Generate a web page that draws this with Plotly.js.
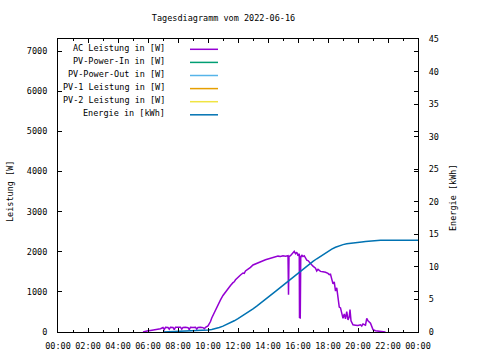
<!DOCTYPE html>
<html><head><meta charset="utf-8">
<script src="https://cdn.plot.ly/plotly-3.0.1.min.js"></script>
<style>html,body{margin:0;padding:0;background:#fff}#chart{width:480px;height:360px}</style>
</head><body><div id="chart"></div>
<script>
const chartTitle = "Tagesdiagramm vom 2022-06-16";
const leftAxisTitle = "Leistung [W]";
const rightAxisTitle = "Energie [kWh]";
const seriesNames = ["AC Leistung in [W]", "PV-Power-In in [W]", "PV-Power-Out in [W]", "PV-1 Leistung in [W]", "PV-2 Leistung in [W]", "Energie in [kWh]"];
const seriesColors = ["#9400d3", "#009e73", "#56b4e9", "#e69f00", "#f0e442", "#0072b2"];

const xTickHours = [0, 2, 4, 6, 8, 10, 12, 14, 16, 18, 20, 22, 24];
const xTickLabels = ["00:00", "02:00", "04:00", "06:00", "08:00", "10:00", "12:00", "14:00", "16:00", "18:00", "20:00", "22:00", "00:00"];
const yTicks = [0, 1000, 2000, 3000, 4000, 5000, 6000, 7000];
const y2Ticks = [0, 5, 10, 15, 20, 25, 30, 35, 40, 45];

const acTimes = ["05:40","05:50","06:00","06:10","06:20","06:30","06:40","06:50","07:00","07:05","07:10","07:20","07:25","07:30","07:40","07:45","07:50","08:00","08:10","08:15","08:20","08:30","08:40","08:45","08:50","09:00","09:10","09:15","09:20","09:30","09:40","09:45","09:50","10:00","10:05","10:10","10:15","10:20","10:25","10:30","10:35","10:40","10:45","10:50","11:00","11:10","11:15","11:20","11:30","11:40","11:45","11:50","12:00","12:10","12:20","12:25","12:30","12:40","12:50","13:00","13:10","13:20","13:30","13:40","13:50","14:00","14:10","14:20","14:30","14:40","14:50","15:00","15:10","15:20","15:22","15:24","15:30","15:40","15:45","15:50","15:55","16:00","16:05","16:06","16:08","16:09","16:11","16:15","16:20","16:25","16:30","16:35","16:40","16:50","17:00","17:10","17:15","17:20","17:30","17:40","17:50","18:00","18:05","18:10","18:15","18:20","18:25","18:30","18:35","18:40","18:45","18:50","18:55","19:00","19:05","19:10","19:15","19:20","19:25","19:28","19:32","19:40","19:50","20:00","20:10","20:15","20:20","20:30","20:35","20:40","20:50","20:55","21:00","21:10","21:20","21:30","21:40","21:50"];
const acValues = [0,20,30,40,50,60,60,80,110,60,115,110,70,120,115,60,120,115,120,70,115,120,110,60,120,115,120,70,115,120,110,80,115,150,200,260,350,420,480,560,610,690,730,800,910,1000,1030,1080,1160,1230,1250,1300,1370,1420,1470,1460,1520,1560,1610,1670,1700,1730,1750,1780,1800,1820,1840,1860,1870,1890,1880,1900,1890,1900,930,1880,1900,1960,2010,1950,1990,1900,1950,350,1900,330,1850,1920,1880,1900,1820,1790,1780,1700,1640,1590,1520,1560,1510,1500,1490,1460,1430,1440,1300,1200,1250,1020,1100,900,620,600,420,340,450,330,510,300,380,560,280,180,170,160,180,150,200,170,340,280,220,150,60,30,20,20,15,0];

const energyTimes = ["07:00","07:30","08:00","08:30","09:00","09:30","10:00","10:15","10:30","10:45","11:00","11:15","11:30","11:45","12:00","12:15","12:30","12:45","13:00","13:15","13:30","13:45","14:00","14:15","14:30","14:45","15:00","15:15","15:30","15:45","16:00","16:15","16:30","16:45","17:00","17:15","17:30","17:45","18:00","18:15","18:30","18:45","19:00","19:15","19:30","19:45","20:00","20:15","20:30","20:45","21:00","21:15","21:30","24:00"];
const energyValues = [0.0,0.03,0.07,0.12,0.17,0.22,0.3,0.4,0.52,0.7,0.9,1.15,1.42,1.72,2.05,2.4,2.77,3.15,3.55,3.97,4.4,4.84,5.3,5.76,6.23,6.7,7.17,7.65,8.12,8.6,9.08,9.52,9.97,10.42,10.85,11.25,11.65,12.03,12.4,12.74,13.02,13.25,13.42,13.54,13.64,13.71,13.78,13.84,13.91,13.98,14.04,14.08,14.1,14.1];

const pvInTimes = [], pvInValues = [];
const pvOutTimes = [], pvOutValues = [];
const pv1Times = [], pv1Values = [];
const pv2Times = [], pv2Values = [];

function toHours(t) { const p = t.split(":"); return parseInt(p[0], 10) + parseInt(p[1], 10) / 60; }

const FONT = "DejaVu Sans Mono";
const FS = 8.5;

const traces = [
  {x: acTimes.map(toHours), y: acValues, yaxis: "y"},
  {x: pvInTimes.map(toHours), y: pvInValues, yaxis: "y"},
  {x: pvOutTimes.map(toHours), y: pvOutValues, yaxis: "y"},
  {x: pv1Times.map(toHours), y: pv1Values, yaxis: "y"},
  {x: pv2Times.map(toHours), y: pv2Values, yaxis: "y"},
  {x: energyTimes.map(toHours), y: energyValues, yaxis: "y2"}
].map((t, i) => Object.assign(t, {
  type: "scatter", mode: "lines", name: seriesNames[i], showlegend: false,
  line: {color: seriesColors[i], width: 1.5}, hoverinfo: "skip"
}));

// plot area in pixels
const L = 58, R = 418, T = 39, B = 332;
const px = v => (v - L) / (R - L);
const py = v => (B - v) / (B - T);

const annotations = [];
const shapes = [];
seriesNames.forEach((n, i) => {
  const rowY = 47.5 + i * 13.1;
  annotations.push({xref: "paper", yref: "paper", x: px(167), y: py(rowY), xanchor: "right", yanchor: "middle",
    text: n, showarrow: false, font: {family: FONT, size: FS, color: "#000"}});
  shapes.push({type: "line", xref: "paper", yref: "paper", x0: px(190), x1: px(218), y0: py(rowY + 1.8), y1: py(rowY + 1.8),
    line: {color: seriesColors[i], width: 1.5}});
});
annotations.push({xref: "paper", yref: "paper", x: px(10), y: py(192), textangle: -90, xanchor: "center", yanchor: "middle",
  text: leftAxisTitle, showarrow: false, font: {family: FONT, size: FS, color: "#000"}});
annotations.push({xref: "paper", yref: "paper", x: px(453), y: py(198), textangle: -90, xanchor: "center", yanchor: "middle",
  text: rightAxisTitle, showarrow: false, font: {family: FONT, size: FS, color: "#000"}});

const layout = {
  width: 480, height: 360,
  margin: {l: L, r: 480 - R, t: T, b: 360 - B, pad: 0},
  paper_bgcolor: "#fff", plot_bgcolor: "#fff",
  font: {family: FONT, size: FS, color: "#000"},
  title: {text: chartTitle, x: 223.5 / 480, xref: "container", xanchor: "center", y: 1 - 18 / 360, yref: "container", yanchor: "middle",
    font: {family: FONT, size: FS, color: "#000"}},
  showlegend: false,
  xaxis: {range: [0, 24], tickmode: "array", tickvals: xTickHours, ticktext: xTickLabels,
    ticks: "inside", ticklen: 4, tickcolor: "#000", mirror: "ticks", showline: true, linecolor: "#000", linewidth: 1,
    showgrid: false, zeroline: false, ticklabelstandoff: 6,
    minor: {dtick: 1, ticks: "inside", ticklen: 2, tickcolor: "#000", showgrid: false}},
  yaxis: {range: [0, 7300], tickmode: "array", tickvals: yTicks,
    ticks: "inside", ticklen: 4, tickcolor: "#000", mirror: "ticks", showline: true, linecolor: "#000", linewidth: 1,
    showgrid: false, zeroline: false, ticklabelstandoff: 8},
  yaxis2: {range: [0, 45], tickmode: "array", tickvals: y2Ticks, overlaying: "y", side: "right",
    ticks: "inside", ticklen: 4, tickcolor: "#000", showline: true, linecolor: "#000", linewidth: 1,
    showgrid: false, zeroline: false, ticklabelstandoff: 8},
  annotations: annotations,
  shapes: shapes
};

Plotly.newPlot("chart", traces, layout, {staticPlot: true, displayModeBar: false});
</script>
</body></html>
